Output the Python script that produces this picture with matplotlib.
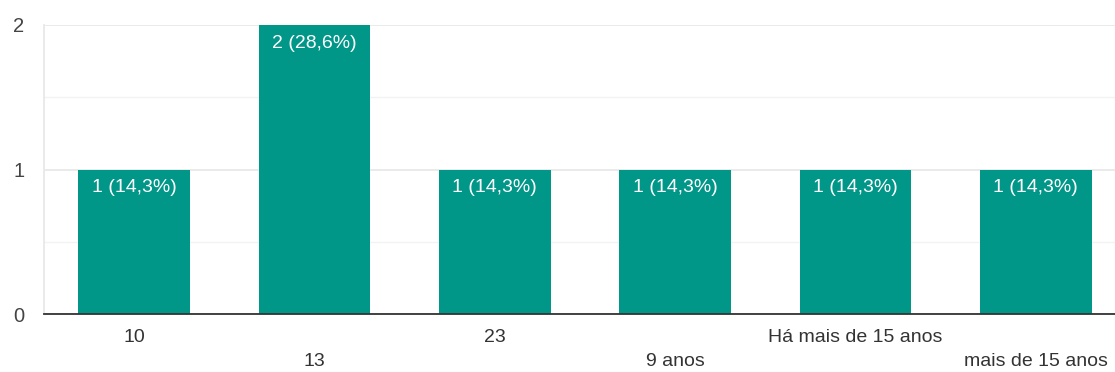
import matplotlib.pyplot as plt

plt.rcParams['font.family'] = ['Liberation Sans', 'DejaVu Sans']

categories = ['10', '13', '23', '9 anos', 'Há mais de 15 anos', 'mais de 15 anos']
counts = [1, 2, 1, 1, 1, 1]
labels = ['1 (14,3%)', '2 (28,6%)', '1 (14,3%)', '1 (14,3%)', '1 (14,3%)', '1 (14,3%)']

teal = '#009688'

fig = plt.figure(figsize=(11.15, 3.72), dpi=100)
ax = fig.add_axes([44 / 1115, 58 / 372, 1082 / 1115, 289 / 372])

x = list(range(len(categories)))
bars = ax.bar(x, counts, width=0.62, color=teal, zorder=3)

for b, lab in zip(bars, labels):
    ax.annotate(lab, (b.get_x() + b.get_width() / 2, b.get_height()),
                xytext=(0, -13), textcoords='offset points', ha='center', va='center',
                color='white', fontsize=14, zorder=4)

ax.set_xlim(-0.5, 5.5)
ax.set_ylim(0, 2)
ax.set_yticks([0, 1, 2])
ax.set_yticks([0.5, 1.5], minor=True)
ax.grid(axis='y', which='major', color='#e8e8e8', linewidth=1.3, zorder=0)
ax.grid(axis='y', which='minor', color='#f3f3f3', linewidth=1.0, zorder=0)
ax.tick_params(axis='y', which='both', length=0, pad=14, labelsize=14.5, labelcolor='#444444')
ax.tick_params(axis='x', length=0, labelsize=14, labelcolor='#333333')

ax.set_xticks(x)
ax.set_xticklabels([])
for i, c in enumerate(categories):
    dy = -23 if i % 2 == 0 else -48
    ax.annotate(c, (i, 0), xycoords=('data', 'axes fraction'), xytext=(0, dy * 0.72),
                textcoords='offset points', ha='center', va='center',
                fontsize=14, color='#333333', annotation_clip=False)

for s in ['top', 'right']:
    ax.spines[s].set_visible(False)
ax.spines['left'].set_color('#e8e8e8')
ax.spines['left'].set_linewidth(1.3)
ax.spines['bottom'].set_color('#333333')
ax.spines['bottom'].set_linewidth(1.3)
ax.spines['bottom'].set_zorder(5)

fig.savefig('out.png', dpi=100)
